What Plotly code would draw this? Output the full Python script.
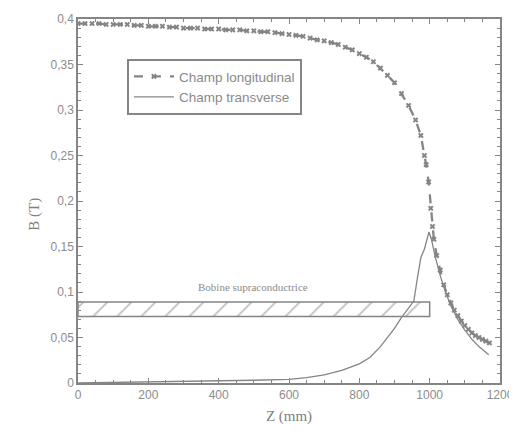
import plotly.graph_objects as go

# Longitudinal field (Champ longitudinal)
long_z = [0, 20, 40, 60, 80, 100, 120, 140, 160, 180, 200, 220, 240, 260, 280, 300, 320,
          340, 360, 380, 400, 420, 440, 460, 480, 500, 520, 540, 560, 580, 600, 620, 640,
          660, 680, 700, 720, 740, 760, 780, 800, 820, 840, 860, 880, 900, 920, 940, 960,
          975, 985, 990, 997, 1003, 1008, 1012, 1020, 1030, 1040, 1050, 1060, 1070, 1080,
          1090, 1100, 1110, 1120, 1130, 1140, 1150, 1160, 1170]
long_B = [0.395, 0.395, 0.395, 0.395, 0.394, 0.394, 0.394, 0.394, 0.393, 0.393, 0.392,
          0.392, 0.392, 0.391, 0.391, 0.390, 0.390, 0.390, 0.389, 0.389, 0.389, 0.388,
          0.388, 0.388, 0.387, 0.387, 0.386, 0.386, 0.385, 0.384, 0.383, 0.382, 0.381,
          0.379, 0.377, 0.376, 0.374, 0.372, 0.369, 0.366, 0.362, 0.358, 0.353, 0.346,
          0.338, 0.330, 0.318, 0.305, 0.289, 0.272, 0.250, 0.240, 0.221, 0.192, 0.172,
          0.158, 0.140, 0.124, 0.108, 0.097, 0.088, 0.080, 0.074, 0.068, 0.063, 0.059,
          0.055, 0.052, 0.050, 0.048, 0.046, 0.044]

# Transverse field (Champ transverse)
trans_z = [0, 100, 200, 300, 400, 500, 600, 650, 700, 750, 800, 830, 860, 880, 900, 920,
           940, 955, 965, 975, 985, 992, 998, 1005, 1015, 1030, 1045, 1060, 1080, 1100,
           1120, 1140, 1155, 1168]
trans_B = [0.0, 0.0005, 0.001, 0.0015, 0.002, 0.003, 0.004, 0.006, 0.009, 0.014, 0.021,
           0.028, 0.040, 0.050, 0.060, 0.072, 0.082, 0.090, 0.115, 0.138, 0.147, 0.158,
           0.166, 0.158, 0.140, 0.118, 0.100, 0.085, 0.070, 0.058, 0.048, 0.040, 0.035,
           0.031]

# Superconducting coil extent
coil_z = [0, 1000]
coil_B = [0.073, 0.089]

x_tickvals = [0, 200, 400, 600, 800, 1000, 1200]
x_ticktext = ["0", "200", "400", "600", "800", "1000", "1200"]
y_tickvals = [0, 0.05, 0.1, 0.15, 0.2, 0.25, 0.3, 0.35, 0.4]
y_ticktext = ["0", "0,05", "0,1", "0,15", "0,2", "0,25", "0,3", "0,35", "0,4"]

gray = "#858585"

fig = go.Figure()

fig.add_trace(go.Scatter(
    x=[coil_z[0], coil_z[1], coil_z[1], coil_z[0], coil_z[0]],
    y=[coil_B[0], coil_B[0], coil_B[1], coil_B[1], coil_B[0]],
    mode="lines", fill="toself", fillcolor="white",
    fillpattern=dict(shape="/", fgcolor="#7a7a7a", bgcolor="white", size=17, solidity=0.1),
    line=dict(color=gray, width=1.5), showlegend=False, hoverinfo="skip"))

fig.add_trace(go.Scatter(
    x=long_z, y=long_B, mode="lines+markers", name="Champ longitudinal",
    line=dict(color=gray, width=2.3, dash="dash"),
    marker=dict(symbol="x", size=5, color=gray)))

fig.add_trace(go.Scatter(
    x=trans_z, y=trans_B, mode="lines", name="Champ transverse",
    line=dict(color=gray, width=1.3)))

fig.add_annotation(x=498, y=0.106, text="Bobine supraconductrice", showarrow=False,
                   font=dict(family="Liberation Serif", size=11, color="#8a8a8a"))

fig.add_annotation(xref="paper", yref="paper", x=-0.102, y=0.465, text="B (T)",
                   textangle=-90, showarrow=False, xanchor="center", yanchor="middle",
                   font=dict(family="Liberation Serif", size=15, color="#808080"))

axis_common = dict(showline=True, mirror="ticks", linecolor=gray, linewidth=1.5,
                   ticks="inside", ticklen=5, tickcolor=gray, tickwidth=1,
                   showgrid=False, zeroline=False, automargin=False,
                   tickfont=dict(family="Liberation Sans", size=12, color="#8c8c8c"))

fig.update_xaxes(range=[0, 1200], tickvals=x_tickvals, ticktext=x_ticktext,
                 minor=dict(dtick=50, ticks="inside", ticklen=3, tickcolor=gray),
                 title=dict(text="Z (mm)", standoff=15,
                            font=dict(family="Liberation Serif", size=15, color="#808080")),
                 **axis_common)
fig.update_yaxes(range=[0, 0.4], tickvals=y_tickvals, ticktext=y_ticktext,
                 minor=dict(dtick=0.01, ticks="inside", ticklen=3, tickcolor=gray),
                 **axis_common)

fig.update_layout(
    width=509, height=417,
    margin=dict(l=70, r=17, t=11, b=42),
    paper_bgcolor="white", plot_bgcolor="white",
    legend=dict(x=0.116, y=0.89, xanchor="left", yanchor="top",
                bordercolor=gray, borderwidth=2, bgcolor="white",
                font=dict(family="Liberation Sans", size=13.5, color="#8a8a8a"),
                tracegroupgap=0, itemwidth=40),
)

fig.write_html("out.html")
